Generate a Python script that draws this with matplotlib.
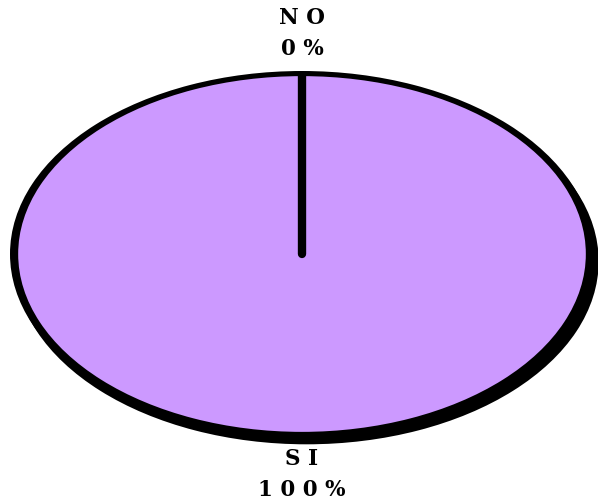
import numpy as np
import matplotlib.pyplot as plt

# data
labels = ["N O\n0 %", "S I\n1 0 0 %"]
values = [0, 100]

FILL = "#CC99FF"

fig = plt.figure(figsize=(5.98, 5.04), dpi=100)
# axes box = bounding box of the ellipse (pixels: cx 302, cy 254, rx 292, ry 183)
ax = fig.add_axes([10 / 598, (504 - 254 - 183) / 504, 584 / 598, 366 / 504])

# shadow, offset to lower right
ax.pie(values, colors=["black", "black"], startangle=90, counterclock=False,
       center=(0.016, -0.04), radius=1.0, wedgeprops=dict(linewidth=0))

# black rim
ax.pie(values, colors=["black", "black"], startangle=90, counterclock=False,
       radius=1.0, wedgeprops=dict(linewidth=0),
       labels=labels, labeldistance=1.205,
       textprops=dict(ha="center", va="center", family="DejaVu Serif",
                      weight="bold", fontsize=15.5, linespacing=1.55,
                      multialignment="center"))

# purple fill
wedges, _ = ax.pie(values, colors=[FILL, FILL], startangle=90, counterclock=False,
                   radius=0.972, wedgeprops=dict(linewidth=0))

# divider line along the edge of the zero slice
w = wedges[0]
ang = np.deg2rad(w.theta1)
cx, cy = w.center
ax.plot([cx, cx + w.r * np.cos(ang)], [cy, cy + w.r * np.sin(ang)],
        color="black", linewidth=6, solid_capstyle="round")

ax.set_aspect("auto")
ax.set_xlim(-1, 1)
ax.set_ylim(-1, 1)
ax.axis("off")

fig.savefig("out.png", dpi=100)
